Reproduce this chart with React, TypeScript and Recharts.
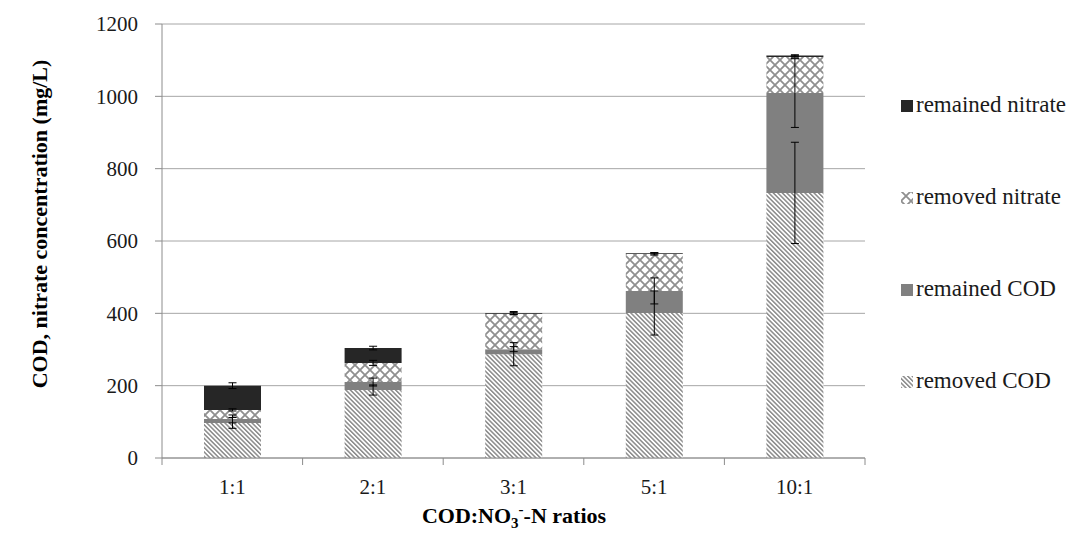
import React from 'react';
import { BarChart, Bar, XAxis, YAxis, CartesianGrid, ErrorBar, Legend } from 'recharts';

// COD:NO3-N ratio groups
const categories = ['1:1', '2:1', '3:1', '5:1', '10:1'];

// stacked segments (mg/L), bottom to top
const removedCOD = [97, 188, 287, 401, 733];
const remainedCOD = [11, 22, 14, 61, 276];
const removedNitrate = [25, 53, 98, 102, 100];
const remainedNitrate = [67, 41, 2, 2, 4];

// +/- error at the top of each segment
const errRemovedCOD = [15, 14, 32, 61, 140];
const errRemainedCOD = [11, 11, 7, 36, 95];
const errRemovedNitrate = [3, 7, 3, 3, 3];
const errRemainedNitrate = [8, 5, 4, 2, 2];

const yTicks = [0, 200, 400, 600, 800, 1000, 1200];
const legendOrder = ['remained nitrate', 'removed nitrate', 'remained COD', 'removed COD'];

const data = categories.map((ratio, i) => ({
  ratio,
  removedCOD: removedCOD[i],
  remainedCOD: remainedCOD[i],
  removedNitrate: removedNitrate[i],
  remainedNitrate: remainedNitrate[i],
  errRemovedCOD: errRemovedCOD[i],
  errRemainedCOD: errRemainedCOD[i],
  errRemovedNitrate: errRemovedNitrate[i],
  errRemainedNitrate: errRemainedNitrate[i],
}));

const series = [
  { key: 'removedCOD', err: 'errRemovedCOD', name: 'removed COD', fill: 'url(#codHatch)' },
  { key: 'remainedCOD', err: 'errRemainedCOD', name: 'remained COD', fill: '#808080' },
  { key: 'removedNitrate', err: 'errRemovedNitrate', name: 'removed nitrate', fill: 'url(#nitrateCross)' },
  { key: 'remainedNitrate', err: 'errRemainedNitrate', name: 'remained nitrate', fill: '#262626' },
];

const FONT = '"Liberation Serif", "Times New Roman", serif';
const AXIS = '#8c8c8c';

function RatioTick(props: any) {
  const { x, y, payload, index, visibleTicksCount } = props;
  const half = payload?.offset ?? 0;
  return (
    <g>
      <line x1={x - half} y1={y} x2={x - half} y2={y + 7} stroke={AXIS} />
      {index === visibleTicksCount - 1 && (
        <line x1={x + half} y1={y} x2={x + half} y2={y + 7} stroke={AXIS} />
      )}
      <text x={x} y={y + 36} textAnchor="middle" fontSize={21} fontFamily={FONT} fill="#1a1a1a">
        {payload.value}
      </text>
    </g>
  );
}

function LegendBox(props: any) {
  const items = [...(props.payload || [])].sort(
    (a: any, b: any) => legendOrder.indexOf(a.value) - legendOrder.indexOf(b.value)
  );
  return (
    <div style={{ fontFamily: FONT, fontSize: 23, color: '#1a1a1a' }}>
      {items.map((it: any) => (
        <div key={it.value} style={{ height: 92, display: 'flex', alignItems: 'center' }}>
          <svg width={13} height={13} style={{ marginRight: 2 }}>
            <rect width={12} height={12} y={1} fill={it.color} />
          </svg>
          <span>{it.value}</span>
        </div>
      ))}
    </div>
  );
}

export default function App() {
  return (
    <div style={{ margin: -8, width: 1075, height: 558, position: 'relative', background: '#fff' }}>
      <BarChart
        width={1075}
        height={558}
        data={data}
        margin={{ top: 24, right: 210, bottom: 60, left: 102 }}
      >
        <defs>
          <pattern id="codHatch" patternUnits="userSpaceOnUse" width={3.2} height={3.2} patternTransform="rotate(-45)">
            <rect width={3.2} height={3.2} fill="#ffffff" />
            <rect width={1.5} height={3.2} fill="#8a8a8a" />
          </pattern>
          <pattern id="nitrateCross" patternUnits="userSpaceOnUse" width={10} height={10}>
            <rect width={10} height={10} fill="#ffffff" />
            <path d="M0,0 L10,10 M10,0 L0,10" stroke="#8f8f8f" strokeWidth={1.8} />
          </pattern>
        </defs>
        <CartesianGrid vertical={false} stroke="#a6a6a6" />
        <XAxis
          dataKey="ratio"
          stroke={AXIS}
          tickLine={false}
          tickSize={0}
          tickMargin={0}
          height={40}
          interval={0}
          tick={<RatioTick />}
        />
        <YAxis
          domain={[0, 1200]}
          ticks={yTicks}
          width={60}
          stroke={AXIS}
          tickSize={7}
          tickMargin={17}
          tick={{ fontSize: 21, fontFamily: FONT, fill: '#1a1a1a' }}
        />
        <YAxis
          yAxisId="frame"
          orientation="right"
          domain={[0, 1200]}
          width={0}
          stroke={AXIS}
          tick={false}
          tickLine={false}
        />
        <Legend
          layout="vertical"
          align="center"
          verticalAlign="middle"
          content={<LegendBox />}
          wrapperStyle={{ left: 901, top: 59, width: 174, height: 370 }}
        />
        {series.map((s) => (
          <Bar
            key={s.key}
            dataKey={s.key}
            name={s.name}
            stackId="a"
            fill={s.fill}
            barSize={57}
            isAnimationActive={false}
          >
            <ErrorBar dataKey={s.err} width={4} stroke="#000" strokeWidth={1} direction="y" isAnimationActive={false} />
          </Bar>
        ))}
      </BarChart>
      <svg width={1075} height={558} style={{ position: 'absolute', left: 0, top: 0, pointerEvents: 'none' }}>
        <text
          transform="translate(47,224) rotate(-90)"
          textAnchor="middle"
          fontSize={22}
          fontWeight="bold"
          fontFamily={FONT}
          fill="#000"
        >
          COD, nitrate concentration (mg/L)
        </text>
        <text x={514} y={523} textAnchor="middle" fontSize={22} fontWeight="bold" fontFamily={FONT} fill="#000">
          COD:NO<tspan fontSize={15} dy={5}>3</tspan>
          <tspan fontSize={15} dy={-14}>-</tspan>
          <tspan dy={9}>-N ratios</tspan>
        </text>
      </svg>
    </div>
  );
}
